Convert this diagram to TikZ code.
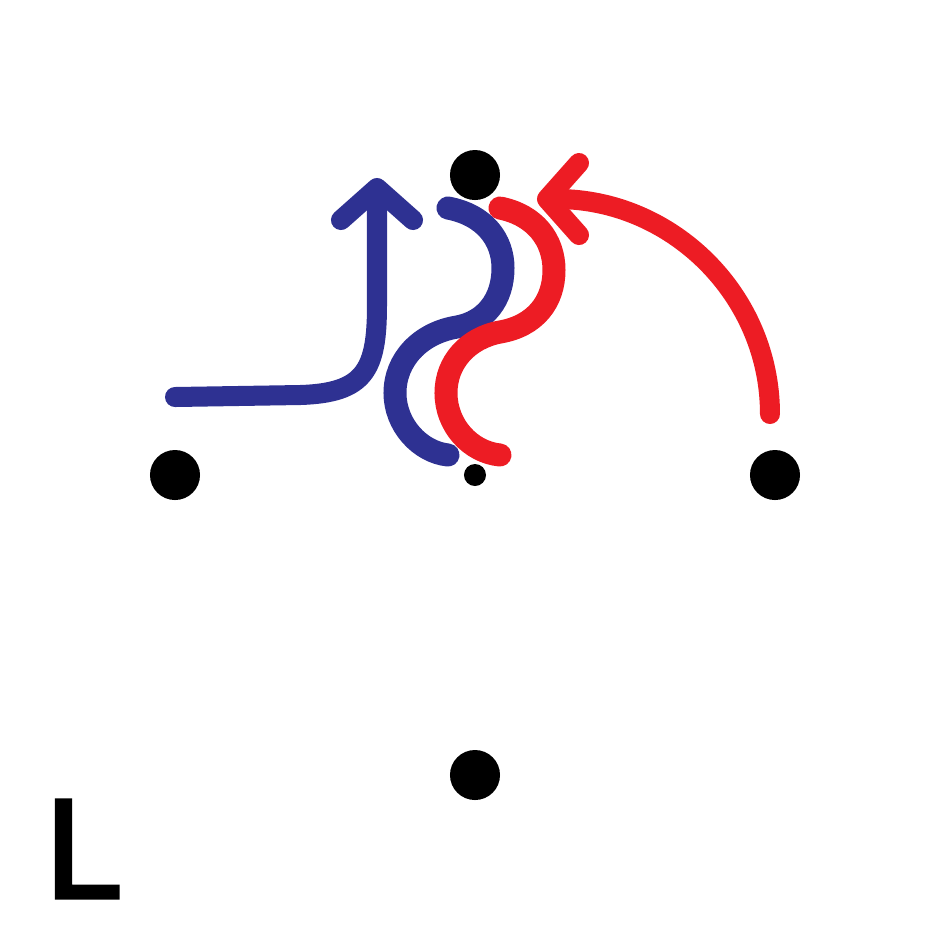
\documentclass[tikz,border=0pt]{standalone}
\usepackage{fontspec}
\usepackage{tikz}
\usetikzlibrary{arrows.meta}
\newfontfamily\letterfont[FakeBold=3]{DejaVu Sans}
\definecolor{SWblue}{HTML}{2E3192}
\definecolor{SWred}{HTML}{ED1C24}

\begin{document}
\begin{tikzpicture}[
    x=0.01cm,y=-0.01cm,
    dot/.style={circle,fill=black,inner sep=0pt,minimum size=0.5cm},
    smalldot/.style={circle,fill=black,inner sep=0pt,minimum size=0.22cm},
    swirl/.style={line width=0.23cm,line cap=round},
    arr/.style={line width=0.2cm,line cap=round,line join=round,
      -{Straight Barb[length=0.32cm,width=0.72cm,round]}}
  ]
    \useasboundingbox (0,0) rectangle (950,950);

    % Dots
    \node[dot] (top) at (475,175) {};
    \node[dot] (left) at (175,475) {};
    \node[dot] (right) at (775,475) {};
    \node[dot] (bottom) at (475,775) {};
    \node[smalldot] (centre) at (475,475) {};

    % Blue arrow
    \draw[arr,SWblue] (175,397) -- (300,395)
      .. controls (365,393) and (377,370) .. (377,305) -- (377,178);

    % Red arrow
    \draw[arr,SWred] (770,414) .. controls (770,295) and (672,199) .. (537,199);

    % Swirls
    \draw[swirl,SWblue] (448,208) .. controls (485,215) and (503,240) .. (503,268)
      .. controls (503,300) and (485,322) .. (457,327)
      .. controls (420,333) and (395,360) .. (395,393)
      .. controls (395,425) and (420,452) .. (448,455);
    \draw[swirl,SWred] (500,208) .. controls (535,215) and (554,240) .. (554,270)
      .. controls (554,302) and (535,326) .. (500,332)
      .. controls (468,338) and (446,362) .. (446,393)
      .. controls (446,425) and (470,452) .. (500,455);

    % Label
    \node[font=\letterfont\fontsize{38}{38}\selectfont,inner sep=0pt] (lbl) at (81,849) {L};
  \end{tikzpicture}
\end{document}
